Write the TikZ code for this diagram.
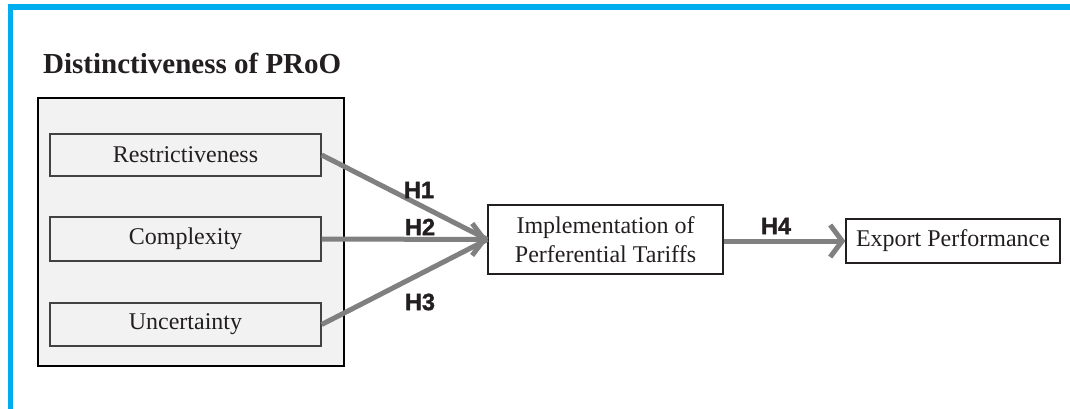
\documentclass[tikz,border=0pt]{standalone}
\usepackage{fontspec}
\setmainfont{Liberation Serif}
\newfontfamily\hfont[BoldFeatures={FakeBold=1.6}]{Liberation Sans}
\usetikzlibrary{arrows.meta}
\definecolor{frameblue}{HTML}{00AEEF}
\definecolor{panelgrey}{HTML}{F2F2F2}
\definecolor{ink}{HTML}{231F20}
\definecolor{linkgrey}{HTML}{808080}
\tikzset{
  factor/.style={draw=ink!85, line width=1.4pt, fill=panelgrey, inner sep=0pt,
    minimum width=271pt, text=ink, font=\fontsize{24}{28}\selectfont},
  plainbox/.style={draw=ink, line width=1.3pt, fill=white, inner sep=0pt,
    text=ink, font=\fontsize{24}{29}\selectfont, align=center},
  link/.style={draw=linkgrey, line width=5pt},
  linkarrow/.style={link, -{Straight Barb[length=12pt,width=32pt]}},
  hyp/.style={font=\hfont\bfseries\fontsize{23.5}{26}\selectfont, text=ink, inner sep=0pt}
}
\begin{document}
\begin{tikzpicture}[x=1pt,y=-1pt]
\useasboundingbox (0,0) rectangle (1070,409);
% frame strips along the top and left edges
\fill[frameblue] (8,4) rectangle (1070,10);
\fill[frameblue] (8,4) rectangle (12.5,409);

% title and grouping panel
\node[anchor=base west, inner sep=0pt, text=ink, font=\bfseries\fontsize{29}{33}\selectfont] (title) at (43,74) {Distinctiveness of PRoO};
\node[draw=black, line width=2.6pt, fill=panelgrey, minimum width=306pt, minimum height=268pt, inner sep=0pt] (panel) at (191,232) {};

% dimensions of PRoO
\node[factor, minimum height=42pt] (res) at (185.5,155) {Restrictiveness};
\node[factor, minimum height=44pt] (cpx) at (185.5,239) {Complexity};
\node[factor, minimum height=43pt] (unc) at (185.5,324.5) {Uncertainty};

% outcome boxes
\node[plainbox, minimum width=235pt, minimum height=69pt] (impl) at (605.5,239.5) {Implementation of\\Perferential Tariffs};
\node[plainbox, minimum width=214pt, minimum height=44pt] (exp) at (953,241) {Export Performance};

% hypothesised paths
\draw[link] (res.east) -- (impl.west);
\draw[link] (unc.east) -- (impl.west);
\draw[linkarrow] (cpx.east) -- (impl.west);
\draw[linkarrow] (impl.east |- exp.west) -- (exp.west);

% hypothesis labels
\node[hyp] (h1) at (419,190) {H1};
\node[hyp] (h2) at (420,227) {H2};
\node[hyp] (h3) at (420,302) {H3};
\node[hyp] (h4) at (776,226) {H4};
\end{tikzpicture}
\end{document}
